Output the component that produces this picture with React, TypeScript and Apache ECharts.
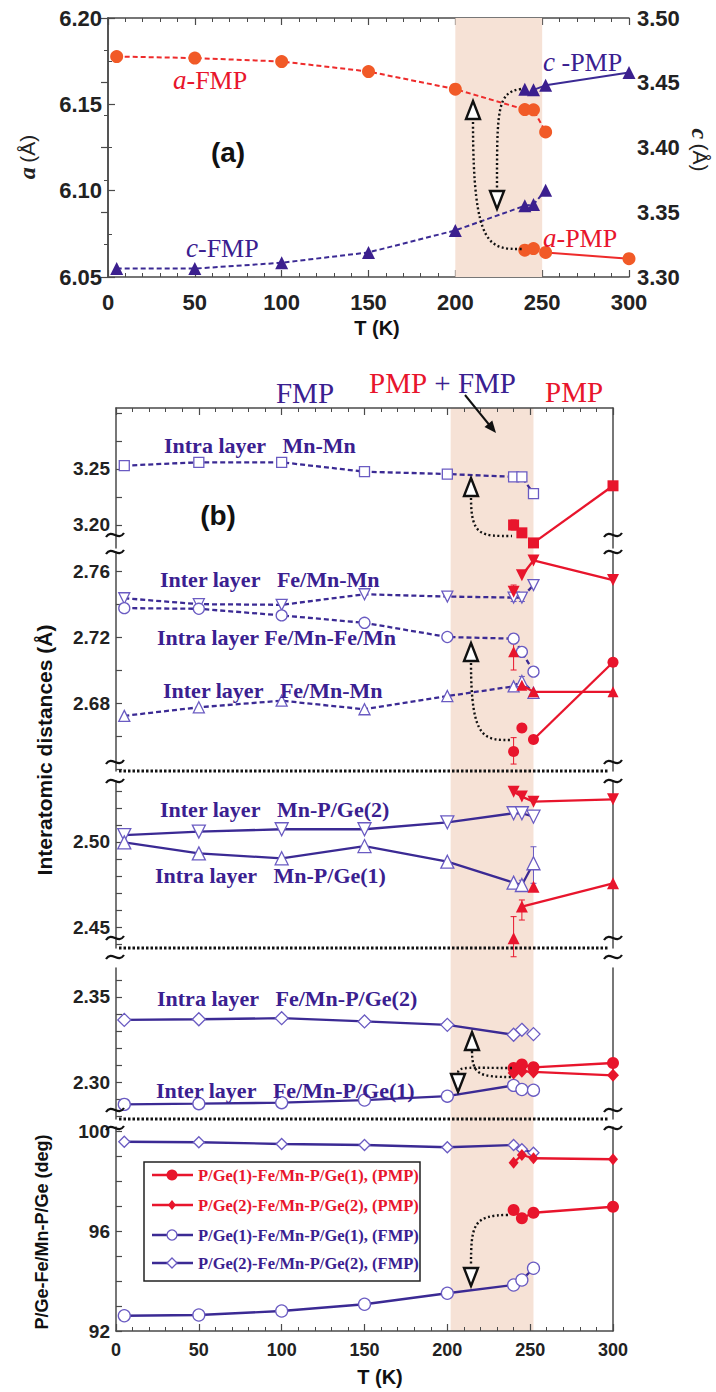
import React, { useEffect, useRef } from "react";
import * as echarts from "echarts";

// ---------------- data ----------------
const T_FMP = [5, 50, 100, 150, 200, 240, 245, 252];
const T_PMP = [240, 245, 252, 300];

// panel (a)
const aFMP = [6.1777, 6.1768, 6.1748, 6.169, 6.1588, 6.147, 6.1468, 6.134];
const aPMP = [6.0655, 6.0665, 6.0642, 6.0606];
const aPMPJoin = [0, 0, 1, 1];
const cFMP = [3.3065, 3.3065, 3.311, 3.319, 3.336, 3.355, 3.356, 3.367];
const cPMP = [3.445, 3.4445, 3.448, 3.458];
const cPMPJoin = [0, 1, 1, 1];

// panel (b) section 1
const s1IntraMnMnFMP = [3.253, 3.256, 3.256, 3.2476, 3.2455, 3.243, 3.243, 3.228];
const s1IntraMnMnPMP = [3.2, 3.193, 3.184, 3.235];
const s1PMPJoin = [0, 0, 1, 1];
// section 2
const s2InterUpFMP = [2.7435, 2.7399, 2.7395, 2.7459, 2.7445, 2.7439, 2.7439, 2.7515];
const s2IntraFeFeFMP = [2.7375, 2.7371, 2.7331, 2.7286, 2.72, 2.719, 2.711, 2.699];
const s2InterLoFMP = [2.6722, 2.6774, 2.6814, 2.6762, 2.6842, 2.6901, 2.6933, 2.6862];
const s2DownPMP = [2.7475, 2.7574, 2.7664, 2.7545];
const s2DownJoin = [0, 1, 1, 1];
const s2UpPMP = [2.711, 2.6907, 2.6868, 2.6868];
const s2UpJoin = [0, 1, 1, 1];
const s2CircPMP = [2.6506, 2.6649, 2.6579, 2.7047];
const s2CircJoin = [0, 0, 1, 1];
// section 3
const s3InterMnPGe2FMP = [2.5041, 2.5061, 2.5075, 2.5075, 2.5116, 2.5169, 2.5169, 2.5149];
const s3IntraMnPGe1FMP = [2.4998, 2.4933, 2.4904, 2.4976, 2.4884, 2.4761, 2.4747, 2.4875];
const s3DownPMP = [2.5296, 2.5267, 2.5237, 2.5251];
const s3UpPMP = [2.4434, 2.462, 2.4737, 2.4757];
const s3UpJoin = [0, 1, 0, 1];
// section 4
const s4IntraFeMnPGe2FMP = [2.3366, 2.337, 2.3376, 2.3357, 2.3337, 2.3279, 2.3308, 2.3283];
const s4InterFeMnPGe1FMP = [2.2872, 2.2876, 2.2882, 2.2897, 2.292, 2.2983, 2.2959, 2.2955];
const s4FMPJoin = [1, 1, 1, 1, 1, 1, 0, 0];
const s4CircPMP = [2.3085, 2.3105, 2.3089, 2.3114];
const s4DiamPMP = [2.3056, 2.3066, 2.3062, 2.3042];
// section 5 (angles, deg)
const s5Ge2FMP = [99.57, 99.55, 99.48, 99.44, 99.35, 99.44, 99.27, 99.13];
const s5Ge1FMP = [92.61, 92.64, 92.8, 93.07, 93.51, 93.84, 94.04, 94.51];
const s5Ge2PMP = [98.73, 99.04, 98.91, 98.87];
const s5Ge1PMP = [96.84, 96.51, 96.73, 96.97];

// error bars: [T, low, high, colour(0 red, 1 blue)]
const s1Err = [[240, 3.1955, 3.2045, 0]];
const s2Err = [
  [240, 2.7435, 2.7515, 0],
  [240, 2.7, 2.716, 0],
  [245, 2.6905, 2.6961, 1],
  [240, 2.643, 2.659, 0],
  [245, 2.6625, 2.6673, 0],
  [240, 2.7415, 2.7463, 1],
  [245, 2.7415, 2.7463, 1],
];
const s3Err = [
  [252, 2.4757, 2.4972, 1],
  [240, 2.4325, 2.4561, 0],
  [245, 2.4541, 2.4659, 0],
  [245, 2.4725, 2.4775, 1],
];

// axis ticks / labels
const xTicksLabels = [0, 50, 100, 150, 200, 250, 300];
const s1Labels = [3.2, 3.25];
const s1Ticks = [3.2, 3.225, 3.25, 3.275, 3.3];
const s2Labels = [2.68, 2.72, 2.76];
const s2Ticks = [2.64, 2.66, 2.68, 2.7, 2.72, 2.74, 2.76];
const s3Labels = [2.45, 2.5];
const s3Ticks = [2.44, 2.45, 2.46, 2.47, 2.48, 2.49, 2.5, 2.51, 2.52, 2.53];
const s4Labels = [2.3, 2.35];
const s4Ticks = [2.28, 2.29, 2.3, 2.31, 2.32, 2.33, 2.34, 2.35, 2.36];
const s5Labels = [92, 96, 100];
const s5Ticks = [92, 93, 94, 95, 96, 97, 98, 99, 100];

const shadeA = [200, 250];
const shadeB = [202, 252];

const legendNames = [
  "P/Ge(1)-Fe/Mn-P/Ge(1), (PMP)",
  "P/Ge(2)-Fe/Mn-P/Ge(2), (PMP)",
  "P/Ge(1)-Fe/Mn-P/Ge(1), (FMP)",
  "P/Ge(2)-Fe/Mn-P/Ge(2), (FMP)",
];

// ---------------- styles ----------------
const RED = "#e8152c";
const ORANGE = "#f15a27";
const INDIGO = "#3a2090";
const LINE_B = "#3b2a94";
const OPEN_B = "#6a5bc2";
const SHADE = "#f6e2d6";
const AXIS = "#4a4a4a";
const SERIF = '"Liberation Serif", "DejaVu Serif", serif';
const SANS = '"Liberation Sans", Arial, sans-serif';

const PA = { left: 108, top: 18, width: 521, height: 259 };
const PB = { left: 116, width: 497 };
const SECT = [
  { top: 408, bottom: 548, min: 3.17946, max: 3.30446, labels: s1Labels, ticks: s1Ticks, dp: 2 },
  { top: 552, bottom: 771, min: 2.63879, max: 2.77152, labels: s2Labels, ticks: s2Ticks, dp: 2 },
  { top: 781, bottom: 948, min: 2.43765, max: 2.53588, labels: s3Labels, ticks: s3Ticks, dp: 2 },
  { top: 968, bottom: 1119, min: 2.27865, max: 2.36696, labels: s4Labels, ticks: s4Ticks, dp: 2 },
  { top: 1127, bottom: 1331, min: 92, max: 100.16, labels: s5Labels, ticks: s5Ticks, dp: 0 },
];

type SOpt = {
  T: number[];
  v: number[];
  join?: number[];
  xi: number;
  yi: number;
  symbol: string;
  size: number | number[];
  rotate?: number;
  open?: boolean;
  color: string;
  lineColor?: string;
  dashed?: boolean;
  lw?: number;
};

function mk(o: SOpt): any[] {
  const pts = o.T.map((t, i) => [t, o.v[i]]);
  const joined = pts.filter((_, i) => !o.join || o.join[i]);
  const loose = pts.filter((_, i) => o.join && !o.join[i]);
  const itemStyle = o.open
    ? { color: "#fff", borderColor: OPEN_B, borderWidth: 1.3, opacity: 1 }
    : { color: o.color, borderWidth: 0, opacity: 1 };
  const common = {
    xAxisIndex: o.xi,
    yAxisIndex: o.yi,
    symbol: o.symbol,
    symbolSize: o.size,
    symbolRotate: o.rotate || 0,
    itemStyle,
    silent: true,
    z: o.open ? 3 : 4,
  };
  const out: any[] = [];
  if (joined.length > 1)
    out.push({
      ...common,
      type: "line",
      data: joined,
      showSymbol: true,
      lineStyle: { color: o.lineColor || o.color, width: o.lw ?? 2.3, type: o.dashed ? [5, 3] : "solid" },
    });
  const rest = joined.length > 1 ? loose : loose.concat(joined);
  if (rest.length) out.push({ ...common, type: "scatter", data: rest });
  return out;
}

function errSeries(data: number[][], xi: number, yi: number) {
  return {
    type: "custom",
    xAxisIndex: xi,
    yAxisIndex: yi,
    data,
    clip: false,
    silent: true,
    z: 2,
    encode: { x: 0, y: [1, 2] },
    renderItem: (_p: any, api: any) => {
      const t = api.value(0);
      const a = api.coord([t, api.value(1)]);
      const b = api.coord([t, api.value(2)]);
      const st = { stroke: api.value(3) ? OPEN_B : RED, lineWidth: 1 };
      return {
        type: "group",
        children: [
          { type: "line", shape: { x1: a[0], y1: a[1], x2: b[0], y2: b[1] }, style: st },
          { type: "line", shape: { x1: a[0] - 3, y1: a[1], x2: a[0] + 3, y2: a[1] }, style: st },
          { type: "line", shape: { x1: b[0] - 3, y1: b[1], x2: b[0] + 3, y2: b[1] }, style: st },
        ],
      };
    },
  };
}

function txt(x: number, y: number, text: string, o: any = {}) {
  return {
    type: "text",
    x,
    y,
    rotation: o.rotation || 0,
    z: o.z || 30,
    style: {
      text,
      fill: o.fill || "#111",
      fontSize: o.size || 16,
      fontFamily: o.family || SANS,
      fontWeight: o.weight || "normal",
      fontStyle: o.style || "normal",
      align: o.align || "left",
      verticalAlign: "middle",
      rich: o.rich,
    },
  };
}

function tilde(x: number, y: number) {
  return {
    type: "bezierCurve",
    z: 30,
    shape: { x1: x - 9, y1: y + 2, cpx1: x - 3, cpy1: y - 7, cpx2: x + 3, cpy2: y + 7, x2: x + 9, y2: y - 2 },
    style: { stroke: "#111", lineWidth: 2.2, fill: null },
  };
}

function dotted(s: number[]) {
  return {
    type: "bezierCurve",
    z: 25,
    shape: { x1: s[0], y1: s[1], cpx1: s[2], cpy1: s[3], cpx2: s[4], cpy2: s[5], x2: s[6], y2: s[7] },
    style: { stroke: "#111", lineWidth: 2.4, lineDash: [2, 2.5], fill: null },
  };
}

function tri(cx: number, cy: number, up: boolean) {
  const w = 7, h = 9;
  const pts = up
    ? [[cx, cy - h], [cx + w, cy + h], [cx - w, cy + h]]
    : [[cx, cy + h], [cx + w, cy - h], [cx - w, cy - h]];
  return { type: "polygon", z: 26, shape: { points: pts }, style: { fill: "#fff", stroke: "#111", lineWidth: 2.4 } };
}

function label(x: number, y: number, s: string) {
  return txt(x, y, s, { fill: INDIGO, size: 22, family: SERIF, weight: "bold" });
}

function richLab(x: number, y: number, letter: string, rest: string, color: string) {
  return txt(x, y, `{i|${letter}}{n|${rest}}`, {
    rich: {
      i: { fill: color, color, fontSize: 27, fontFamily: SERIF, fontStyle: "italic" },
      n: { fill: color, color, fontSize: 26, fontFamily: SERIF },
    },
  });
}

function buildOption() {
  const xTickCommon = {
    type: "value",
    min: 0,
    max: 300,
    interval: 50,
    axisLine: { show: true, lineStyle: { color: AXIS, width: 1.5 } },
    axisTick: { show: true, inside: true, length: 7, lineStyle: { color: AXIS, width: 1.2 } },
    minorTick: { show: true, splitNumber: 5, length: 4, lineStyle: { color: AXIS, width: 1 } },
    splitLine: { show: false },
  };
  const grids: any[] = [
    { left: PA.left, top: PA.top, width: PA.width, height: PA.height },
    ...SECT.map((s) => ({ left: PB.left, width: PB.width, top: s.top, height: s.bottom - s.top })),
  ];
  const xAxis: any[] = [
    {
      ...xTickCommon,
      gridIndex: 0,
      position: "bottom",
      axisLabel: { fontSize: 22, fontWeight: "bold", fontFamily: SANS, color: "#222", margin: 14 },
    },
    { ...xTickCommon, gridIndex: 0, position: "top", axisLabel: { show: false } },
    { ...xTickCommon, gridIndex: 1, position: "top", axisLabel: { show: false } },
    { ...xTickCommon, gridIndex: 2, show: false },
    { ...xTickCommon, gridIndex: 3, show: false },
    { ...xTickCommon, gridIndex: 4, show: false },
    {
      ...xTickCommon,
      gridIndex: 5,
      position: "bottom",
      axisLabel: { fontSize: 18, fontWeight: "bold", fontFamily: SANS, color: "#222", margin: 10, customValues: xTicksLabels },
    },
  ];
  const yCommon = {
    type: "value",
    splitLine: { show: false },
    axisLine: { show: true, lineStyle: { color: AXIS, width: 1.5 } },
    axisTick: { show: true, inside: true, length: 7, lineStyle: { color: AXIS, width: 1.2 } },
    minorTick: { show: true, splitNumber: 2, length: 4, lineStyle: { color: AXIS, width: 1 } },
  };
  const yAxis: any[] = [
    {
      ...yCommon,
      gridIndex: 0,
      position: "left",
      min: 6.05,
      max: 6.2,
      interval: 0.05,
      axisLabel: { fontSize: 22, fontWeight: "bold", fontFamily: SANS, color: "#222", margin: 6, formatter: (v: number) => v.toFixed(2) },
    },
    {
      ...yCommon,
      gridIndex: 0,
      position: "right",
      min: 3.3,
      max: 3.5,
      interval: 0.05,
      axisLabel: { fontSize: 22, fontWeight: "bold", fontFamily: SANS, color: "#222", margin: 8, formatter: (v: number) => v.toFixed(2) },
    },
    ...SECT.map((s, i) => ({
      type: "value",
      gridIndex: i + 1,
      position: "left",
      min: s.min,
      max: s.max,
      splitLine: { show: false },
      axisLine: { show: true, lineStyle: { color: AXIS, width: 1.5 } },
      axisTick: { show: true, inside: true, length: 6, customValues: s.ticks, lineStyle: { color: AXIS, width: 1.2 } },
      axisLabel: {
        customValues: s.labels,
        fontSize: 19,
        fontWeight: "bold",
        fontFamily: SANS,
        color: "#222",
        margin: 6,
        formatter: (v: number) => v.toFixed(s.dp),
      },
    })),
    ...SECT.map((s, i) => ({
      type: "value",
      gridIndex: i + 1,
      position: "right",
      min: s.min,
      max: s.max,
      splitLine: { show: false },
      axisLine: { show: true, lineStyle: { color: AXIS, width: 1.5 } },
      axisTick: { show: false },
      axisLabel: { show: false },
    })),
  ];

  const series: any[] = [];
  // panel (a)
  const aF = mk({ T: T_FMP, v: aFMP, xi: 0, yi: 0, symbol: "circle", size: 13, color: ORANGE, lineColor: "#ee2b2b", dashed: true, lw: 2 });
  aF[0].markArea = {
    silent: true,
    itemStyle: { color: SHADE },
    data: [[{ xAxis: shadeA[0] }, { xAxis: shadeA[1] }]],
  };
  aF[0].z = 3;
  series.push(...aF);
  series.push(...mk({ T: T_PMP, v: aPMP, join: aPMPJoin, xi: 0, yi: 0, symbol: "circle", size: 13, color: ORANGE, lineColor: "#ee2b2b", lw: 2 }));
  series.push(...mk({ T: T_FMP, v: cFMP, xi: 0, yi: 1, symbol: "triangle", size: 13, color: "#3b1f8e", lineColor: LINE_B, dashed: true, lw: 2 }));
  series.push(...mk({ T: T_PMP, v: cPMP, join: cPMPJoin, xi: 0, yi: 1, symbol: "triangle", size: 13, color: "#3b1f8e", lineColor: LINE_B, lw: 2 }));

  // panel (b) section 1
  series.push(...mk({ T: T_FMP, v: s1IntraMnMnFMP, xi: 2, yi: 2, symbol: "rect", size: 10, open: true, color: OPEN_B, lineColor: LINE_B, dashed: true }));
  series.push(...mk({ T: T_PMP, v: s1IntraMnMnPMP, join: s1PMPJoin, xi: 2, yi: 2, symbol: "rect", size: 11, color: RED }));
  series.push(errSeries(s1Err, 2, 2));
  // section 2
  series.push(...mk({ T: T_FMP, v: s2InterUpFMP, xi: 3, yi: 3, symbol: "triangle", rotate: 180, size: 11, open: true, color: OPEN_B, lineColor: LINE_B, dashed: true }));
  series.push(...mk({ T: T_FMP, v: s2IntraFeFeFMP, xi: 3, yi: 3, symbol: "circle", size: 11, open: true, color: OPEN_B, lineColor: LINE_B, dashed: true }));
  series.push(...mk({ T: T_FMP, v: s2InterLoFMP, xi: 3, yi: 3, symbol: "triangle", size: 11, open: true, color: OPEN_B, lineColor: LINE_B, dashed: true }));
  series.push(...mk({ T: T_PMP, v: s2DownPMP, join: s2DownJoin, xi: 3, yi: 3, symbol: "triangle", rotate: 180, size: 12, color: RED }));
  series.push(...mk({ T: T_PMP, v: s2UpPMP, join: s2UpJoin, xi: 3, yi: 3, symbol: "triangle", size: 11, color: RED }));
  series.push(...mk({ T: T_PMP, v: s2CircPMP, join: s2CircJoin, xi: 3, yi: 3, symbol: "circle", size: 11, color: RED }));
  series.push(errSeries(s2Err, 3, 3));
  // section 3
  series.push(...mk({ T: T_FMP, v: s3InterMnPGe2FMP, xi: 4, yi: 4, symbol: "triangle", rotate: 180, size: 13, open: true, color: OPEN_B, lineColor: LINE_B }));
  series.push(...mk({ T: T_FMP, v: s3IntraMnPGe1FMP, xi: 4, yi: 4, symbol: "triangle", size: 13, open: true, color: OPEN_B, lineColor: LINE_B }));
  series.push(...mk({ T: T_PMP, v: s3DownPMP, xi: 4, yi: 4, symbol: "triangle", rotate: 180, size: 12, color: RED }));
  series.push(...mk({ T: T_PMP, v: s3UpPMP, join: s3UpJoin, xi: 4, yi: 4, symbol: "triangle", size: 12, color: RED }));
  series.push(errSeries(s3Err, 4, 4));
  // section 4
  series.push(...mk({ T: T_FMP, v: s4IntraFeMnPGe2FMP, join: s4FMPJoin, xi: 5, yi: 5, symbol: "diamond", size: [13, 13], open: true, color: OPEN_B, lineColor: LINE_B }));
  series.push(...mk({ T: T_FMP, v: s4InterFeMnPGe1FMP, join: s4FMPJoin, xi: 5, yi: 5, symbol: "circle", size: 12, open: true, color: OPEN_B, lineColor: LINE_B }));
  series.push(...mk({ T: T_PMP, v: s4CircPMP, xi: 5, yi: 5, symbol: "circle", size: 12, color: RED }));
  series.push(...mk({ T: T_PMP, v: s4DiamPMP, xi: 5, yi: 5, symbol: "diamond", size: [12, 13], color: RED }));
  // section 5
  series.push(...mk({ T: T_FMP, v: s5Ge2FMP, xi: 6, yi: 6, symbol: "diamond", size: [11, 11], open: true, color: OPEN_B, lineColor: LINE_B }));
  series.push(...mk({ T: T_FMP, v: s5Ge1FMP, xi: 6, yi: 6, symbol: "circle", size: 12, open: true, color: OPEN_B, lineColor: LINE_B }));
  series.push(...mk({ T: T_PMP, v: s5Ge2PMP, xi: 6, yi: 6, symbol: "diamond", size: [10, 12], color: RED }));
  series.push(...mk({ T: T_PMP, v: s5Ge1PMP, xi: 6, yi: 6, symbol: "circle", size: 12, color: RED }));

  // ---------- graphics ----------
  const xB = (t: number) => PB.left + (t / 300) * PB.width;
  const g: any[] = [];
  g.push({
    type: "rect",
    z: -5,
    shape: { x: xB(shadeB[0]), y: SECT[0].top, width: xB(shadeB[1]) - xB(shadeB[0]), height: SECT[4].bottom - SECT[0].top },
    style: { fill: SHADE },
  });
  // panel (a) texts
  g.push(richLab(173, 80, "a", "-FMP", RED));
  g.push(richLab(543, 62, "c", " -PMP", INDIGO));
  g.push(richLab(543, 238, "a", "-PMP", RED));
  g.push(richLab(186, 248, "c", "-FMP", INDIGO));
  g.push(txt(228, 152, "(a)", { size: 28, weight: "bold", align: "center" }));
  g.push(
    txt(27, 157, "{i|a} {n|(Å)}", {
      rotation: Math.PI / 2,
      align: "center",
      rich: {
        i: { fill: "#222", color: "#222", fontSize: 24, fontFamily: SERIF, fontStyle: "italic", fontWeight: "bold" },
        n: { fill: "#222", color: "#222", fontSize: 21, fontFamily: SANS },
      },
    })
  );
  g.push(
    txt(700, 150, "{i|c} {n|(Å)}", {
      rotation: -Math.PI / 2,
      align: "center",
      rich: {
        i: { fill: "#222", color: "#222", fontSize: 24, fontFamily: SERIF, fontStyle: "italic", fontWeight: "bold" },
        n: { fill: "#222", color: "#222", fontSize: 21, fontFamily: SANS },
      },
    })
  );
  g.push(txt(377, 328, "T (K)", { size: 20, weight: "bold", align: "center" }));
  // panel (a) annotations
  g.push(dotted([473, 122, 473, 250, 490, 249, 522, 249]));
  g.push(dotted([521, 89, 497, 92, 497, 110, 497, 189]));
  g.push(tri(473, 110, true));
  g.push(tri(497, 200, false));

  // panel (b) top labels
  g.push(txt(305, 393, "FMP", { size: 29, family: SERIF, fill: INDIGO, align: "center" }));
  g.push(
    txt(369, 383, "{r|PMP}{b| + FMP}", {
      rich: {
        r: { fill: RED, color: RED, fontSize: 29, fontFamily: SERIF },
        b: { fill: INDIGO, color: INDIGO, fontSize: 29, fontFamily: SERIF },
      },
    })
  );
  g.push(txt(545, 392, "PMP", { size: 29, family: SERIF, fill: RED }));
  g.push({ type: "line", z: 30, shape: { x1: 465, y1: 395, x2: 491, y2: 427 }, style: { stroke: "#111", lineWidth: 2 } });
  g.push({
    type: "polygon",
    z: 30,
    shape: { points: [[496, 433], [484.5, 426.9], [492.3, 420.5]] },
    style: { fill: "#111" },
  });
  g.push(txt(218, 515, "(b)", { size: 28, weight: "bold", align: "center" }));

  // section labels
  const N3 = "\u00a0\u00a0\u00a0";
  g.push(label(164, 445, `Intra layer${N3}Mn-Mn`));
  g.push(label(160, 579, `Inter layer${N3}Fe/Mn-Mn`));
  g.push(label(157, 637, "Intra layer Fe/Mn-Fe/Mn"));
  g.push(label(163, 690, `Inter layer${N3}Fe/Mn-Mn`));
  g.push(label(160, 809, `Inter layer${N3}Mn-P/Ge(2)`));
  g.push(label(155, 875, `Intra layer${N3}Mn-P/Ge(1)`));
  g.push(label(157, 998, `Intra layer${N3}Fe/Mn-P/Ge(2)`));
  g.push(label(156, 1090, `Inter layer${N3}Fe/Mn-P/Ge(1)`));

  // axis titles panel b
  g.push(txt(44, 750, "Interatomic distances (Å)", { size: 21, weight: "bold", rotation: Math.PI / 2, align: "center" }));
  g.push(txt(42, 1232, "P/Ge-Fe/Mn-P/Ge (deg)", { size: 18, weight: "bold", rotation: Math.PI / 2, align: "center" }));
  g.push(txt(380, 1377, "T (K)", { size: 20, weight: "bold", align: "center" }));

  // breaks
  for (const y of [535, 552, 762, 781, 938, 957, 1110, 1128]) {
    g.push(tilde(PB.left - 1, y));
    g.push(tilde(PB.left + PB.width, y));
  }
  for (const y of [771, 948, 1119]) {
    g.push({
      type: "line",
      z: 20,
      shape: { x1: 119, y1: y, x2: 609, y2: y },
      style: { stroke: "#111", lineWidth: 3, lineDash: [2.5, 2] },
    });
  }

  // panel b annotations
  g.push(dotted([471, 498, 471, 537, 482, 536, 512, 536]));
  g.push(tri(471, 487, true));
  g.push(dotted([471, 663, 471, 742, 485, 740, 512, 740]));
  g.push(tri(471, 652, true));
  g.push(dotted([472, 1051, 472, 1075, 480, 1077, 512, 1077]));
  g.push(dotted([512, 1068, 470, 1068, 458, 1066, 458, 1073]));
  g.push(tri(472, 1041, true));
  g.push(tri(458, 1083, false));
  g.push(dotted([508, 1215, 473, 1215, 471, 1225, 471, 1266]));
  g.push(tri(471, 1277, false));

  // legend
  g.push({ type: "rect", z: 40, shape: { x: 144, y: 1162, width: 276, height: 119 }, style: { fill: "#fff", stroke: "#222", lineWidth: 1.5 } });
  const legY = [1175, 1205, 1235, 1263];
  legY.forEach((y, i) => {
    const c = i < 2 ? RED : LINE_B;
    g.push({ type: "line", z: 41, shape: { x1: 152, y1: y, x2: 193, y2: y }, style: { stroke: c, lineWidth: 2.5 } });
    if (i === 0) g.push({ type: "circle", z: 42, shape: { cx: 172, cy: y, r: 5.5 }, style: { fill: RED } });
    if (i === 1) g.push({ type: "polygon", z: 42, shape: { points: [[172, y - 5], [176, y], [172, y + 5], [168, y]] }, style: { fill: RED } });
    if (i === 2) g.push({ type: "circle", z: 42, shape: { cx: 172, cy: y, r: 5 }, style: { fill: "#fff", stroke: OPEN_B, lineWidth: 1.3 } });
    if (i === 3) g.push({ type: "polygon", z: 42, shape: { points: [[172, y - 5], [177, y], [172, y + 5], [167, y]] }, style: { fill: "#fff", stroke: OPEN_B, lineWidth: 1.3 } });
    g.push(txt(198, y, legendNames[i], { size: 16.5, weight: "bold", family: SERIF, fill: i < 2 ? RED : INDIGO, z: 45 }));
  });

  return {
    animation: false,
    backgroundColor: "#fff",
    grid: grids,
    xAxis,
    yAxis,
    series,
    graphic: { elements: g },
  };
}

export default function App() {
  const ref = useRef<HTMLDivElement>(null);
  useEffect(() => {
    if (!ref.current) return;
    const chart = echarts.init(ref.current, undefined, { renderer: "svg" });
    chart.setOption(buildOption() as any);
    return () => chart.dispose();
  }, []);
  return <div ref={ref} style={{ position: "absolute", left: 0, top: 0, width: 716, height: 1392 }} />;
}
